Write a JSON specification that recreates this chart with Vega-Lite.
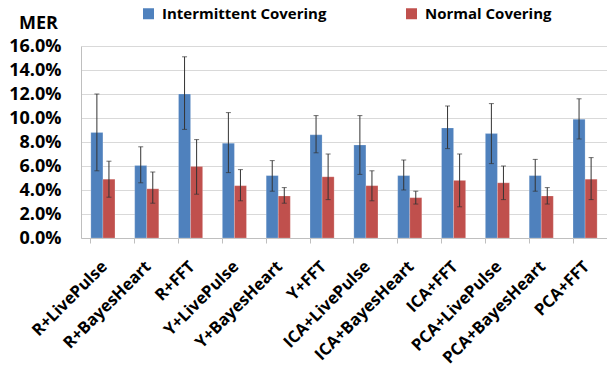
{
  "$schema": "https://vega.github.io/schema/vega-lite/v6.json",
  "width": 526,
  "height": 192,
  "autosize": {"type": "none"},
  "padding": {"left": 81, "top": 46, "right": 0, "bottom": 130},
  "background": "white",
  "config": {
    "view": {"stroke": null},
    "font": "Open Sans",
    "axis": {"labelFont": "Open Sans", "labelFontWeight": "bold", "labelColor": "#000"}
  },
  "data": {
    "values": [
      {"cat": "R+LivePulse", "series": "Intermittent Covering", "v": 0.088, "lo": 0.056, "hi": 0.120},
      {"cat": "R+LivePulse", "series": "Normal Covering", "v": 0.049, "lo": 0.034, "hi": 0.064},
      {"cat": "R+BayesHeart", "series": "Intermittent Covering", "v": 0.0605, "lo": 0.046, "hi": 0.076},
      {"cat": "R+BayesHeart", "series": "Normal Covering", "v": 0.041, "lo": 0.029, "hi": 0.055},
      {"cat": "R+FFT", "series": "Intermittent Covering", "v": 0.120, "lo": 0.0905, "hi": 0.151},
      {"cat": "R+FFT", "series": "Normal Covering", "v": 0.0595, "lo": 0.0365, "hi": 0.082},
      {"cat": "Y+LivePulse", "series": "Intermittent Covering", "v": 0.079, "lo": 0.0545, "hi": 0.1045},
      {"cat": "Y+LivePulse", "series": "Normal Covering", "v": 0.0436, "lo": 0.031, "hi": 0.057},
      {"cat": "Y+BayesHeart", "series": "Intermittent Covering", "v": 0.052, "lo": 0.039, "hi": 0.0645},
      {"cat": "Y+BayesHeart", "series": "Normal Covering", "v": 0.035, "lo": 0.029, "hi": 0.042},
      {"cat": "Y+FFT", "series": "Intermittent Covering", "v": 0.086, "lo": 0.071, "hi": 0.102},
      {"cat": "Y+FFT", "series": "Normal Covering", "v": 0.051, "lo": 0.032, "hi": 0.070},
      {"cat": "ICA+LivePulse", "series": "Intermittent Covering", "v": 0.0775, "lo": 0.053, "hi": 0.102},
      {"cat": "ICA+LivePulse", "series": "Normal Covering", "v": 0.0436, "lo": 0.031, "hi": 0.056},
      {"cat": "ICA+BayesHeart", "series": "Intermittent Covering", "v": 0.052, "lo": 0.040, "hi": 0.065},
      {"cat": "ICA+BayesHeart", "series": "Normal Covering", "v": 0.0336, "lo": 0.0283, "hi": 0.039},
      {"cat": "ICA+FFT", "series": "Intermittent Covering", "v": 0.0917, "lo": 0.0745, "hi": 0.110},
      {"cat": "ICA+FFT", "series": "Normal Covering", "v": 0.048, "lo": 0.026, "hi": 0.070},
      {"cat": "PCA+LivePulse", "series": "Intermittent Covering", "v": 0.087, "lo": 0.062, "hi": 0.112},
      {"cat": "PCA+LivePulse", "series": "Normal Covering", "v": 0.046, "lo": 0.032, "hi": 0.060},
      {"cat": "PCA+BayesHeart", "series": "Intermittent Covering", "v": 0.052, "lo": 0.039, "hi": 0.0655},
      {"cat": "PCA+BayesHeart", "series": "Normal Covering", "v": 0.035, "lo": 0.0283, "hi": 0.042},
      {"cat": "PCA+FFT", "series": "Intermittent Covering", "v": 0.099, "lo": 0.0825, "hi": 0.116},
      {"cat": "PCA+FFT", "series": "Normal Covering", "v": 0.049, "lo": 0.032, "hi": 0.067}
    ]
  },
  "encoding": {
    "x": {
      "field": "cat", "type": "nominal", "sort": null,
      "scale": {"paddingInner": 0.45, "paddingOuter": 0.225},
      "axis": {
        "title": null, "labelAngle": -45, "labelFontSize": 16.5, "labelPadding": 15,
        "domainColor": "#bfbfbf", "tickColor": "#bfbfbf", "tickSize": 5,
        "bandPosition": 0, "labelOffset": -4, "grid": false, "labelLimit": 300
      }
    },
    "xOffset": {"field": "series", "type": "nominal", "scale": {"paddingInner": 0, "paddingOuter": 0}},
    "y": {
      "type": "quantitative",
      "scale": {"domain": [0, 0.16]},
      "axis": {
        "format": ".1%", "values": [0, 0.02, 0.04, 0.06, 0.08, 0.1, 0.12, 0.14, 0.16],
        "labelFontSize": 18, "labelPadding": 20, "ticks": false, "labelOverlap": false,
        "domainColor": "#bfbfbf", "gridColor": "#d9d9d9",
        "title": "MER", "titleAngle": 0, "titleFont": "Open Sans", "titleFontSize": 18, "titleFontWeight": "bold",
        "titleX": -43, "titleY": -14, "titleAlign": "center", "titleBaseline": "bottom"
      }
    }
  },
  "layer": [
    {
      "mark": {"type": "bar", "stroke": "white", "strokeOpacity": 0.4, "strokeWidth": 0.5},
      "encoding": {
        "y": {"field": "v", "type": "quantitative"},
        "color": {
          "field": "series", "type": "nominal",
          "scale": {"domain": ["Intermittent Covering", "Normal Covering"], "range": ["#4F81BD", "#C0504D"]},
          "legend": {
            "title": null, "orient": "none", "direction": "horizontal",
            "legendX": 60, "legendY": -40,
            "symbolType": "square", "symbolSize": 121, "symbolStrokeWidth": 0,
            "labelFont": "Open Sans", "labelFontWeight": "bold", "labelFontSize": 15, "labelColor": "#000",
            "labelLimit": 400, "columnPadding": 77, "labelOffset": 6
          }
        }
      }
    },
    {
      "mark": {"type": "rule", "color": "#333", "strokeWidth": 1},
      "encoding": {
        "y": {"field": "lo", "type": "quantitative"},
        "y2": {"field": "hi"}
      }
    },
    {
      "mark": {"type": "tick", "color": "#333", "thickness": 1, "size": 5},
      "encoding": {"y": {"field": "lo", "type": "quantitative"}}
    },
    {
      "mark": {"type": "tick", "color": "#333", "thickness": 1, "size": 5},
      "encoding": {"y": {"field": "hi", "type": "quantitative"}}
    }
  ]
}
